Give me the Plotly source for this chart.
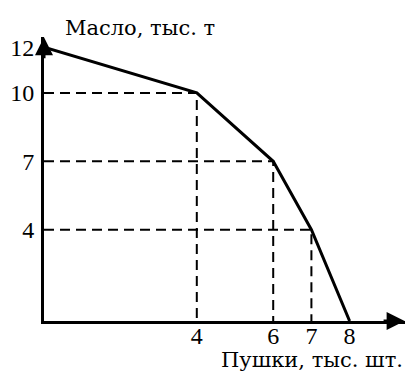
import plotly.graph_objects as go

# === DATA ===
guns = [0, 4, 6, 7, 8]          # тыс. шт.
butter = [12, 10, 7, 4, 0]      # тыс. т
x_ticks = [4, 6, 7, 8]
y_ticks = [4, 7, 10, 12]

TICK_FONT = dict(family="Liberation Serif, Times New Roman, serif", size=24, color="black")
TITLE_FONT = dict(family="DejaVu Serif, Liberation Serif, serif", size=21, color="black")

X_END, Y_END = 9.45, 12.45

fig = go.Figure()

# dashed guide lines from each inner point to both axes
for gx, by in zip(guns[1:-1], butter[1:-1]):
    fig.add_trace(go.Scatter(
        x=[0, gx, gx], y=[by, by, 0],
        mode="lines",
        line=dict(color="black", width=2, dash="10px,6px"),
        hoverinfo="skip", showlegend=False,
    ))

# production possibility frontier
fig.add_trace(go.Scatter(
    x=guns, y=butter,
    mode="lines",
    line=dict(color="black", width=3),
    showlegend=False,
))

# arrow heads at the ends of the axes
fig.add_annotation(x=X_END - 0.01, y=0, ax=X_END - 0.6, ay=0, xref="x", yref="y",
                   axref="x", ayref="y", showarrow=True, arrowhead=2, arrowsize=1.2,
                   arrowwidth=3, arrowcolor="black", text="")
fig.add_annotation(x=0, y=Y_END - 0.01, ax=0, ay=Y_END - 1, xref="x", yref="y",
                   axref="x", ayref="y", showarrow=True, arrowhead=2, arrowsize=1.2,
                   arrowwidth=3, arrowcolor="black", text="")

# axis titles
fig.add_annotation(text="Масло, тыс. т", xref="paper", yref="paper",
                   x=0.052, y=1.0, xanchor="left", yanchor="middle", yshift=9,
                   showarrow=False, font=TITLE_FONT)
fig.add_annotation(text="Пушки, тыс. шт.", xref="paper", yref="paper",
                   x=1.0, y=0, xanchor="right", yanchor="middle", yshift=-39,
                   showarrow=False, font=TITLE_FONT)

fig.update_xaxes(range=[0, X_END], tickvals=x_ticks, showgrid=False, zeroline=False,
                 showline=True, linewidth=3, linecolor="black", ticks="",
                 ticklabelstandoff=-9, tickfont=TICK_FONT)
fig.update_yaxes(range=[0, Y_END], tickvals=y_ticks, showgrid=False, zeroline=False,
                 showline=True, linewidth=3, linecolor="black", ticks="",
                 ticklabelstandoff=2, tickfont=TICK_FONT)

fig.update_layout(
    width=408, height=374,
    margin=dict(l=44, r=3, t=37, b=53),
    plot_bgcolor="white", paper_bgcolor="white",
)

# the default page keeps the browser's 8px body margin; drop it
fig.write_html("out.html", config={"displayModeBar": False},
               post_script="document.body.style.margin = '0';")
